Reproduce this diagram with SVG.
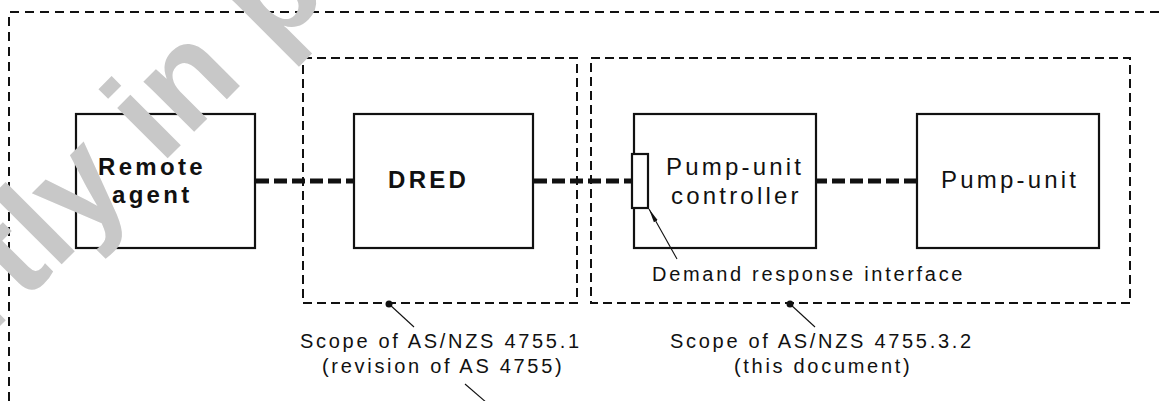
<svg xmlns="http://www.w3.org/2000/svg" width="1159" height="401" viewBox="0 0 1159 401">
<style>
.box{fill:#fff;stroke:#111;stroke-width:2.2}
.scope{fill:none;stroke:#111;stroke-width:2;stroke-dasharray:9 5}
.outer{fill:none;stroke:#111;stroke-width:2;stroke-dasharray:9 6}
.conn{fill:none;stroke:#111;stroke-width:5;stroke-dasharray:13 5}
.lead{fill:none;stroke:#111;stroke-width:1.1}
.bl{font-family:"Liberation Sans",Arial,sans-serif;font-weight:bold;font-size:24px;letter-spacing:3.3px;fill:#111}
.rl{font-family:"Liberation Sans",Arial,sans-serif;font-size:24px;letter-spacing:3.2px;fill:#111}
.sl{font-family:"Liberation Sans",Arial,sans-serif;font-size:20px;letter-spacing:2.7px;fill:#111}
.wm{font-family:"Liberation Sans",Arial,sans-serif;font-weight:bold;font-size:135px;fill:#c8c8c8}
</style>
<defs>
<marker id="arr" viewBox="0 0 14 6" refX="14" refY="3" markerWidth="14" markerHeight="6" markerUnits="userSpaceOnUse" orient="auto">
<path d="M0,0.8 L14,3 L0,5.2 Z" fill="#111"/>
</marker>
</defs>
<rect width="1159" height="401" fill="#fff"/>
<g id="outer-scope"><path class="outer" d="M9,401 V12 H1160"/></g>
<g id="scope-4755-1"><rect class="scope" x="303" y="58" width="274" height="245"/></g>
<g id="scope-4755-3-2"><rect class="scope" x="591" y="58" width="539" height="245"/></g>
<g id="remote-agent">
<rect class="box" x="76" y="114" width="179" height="134"/>
<text class="bl" x="98" y="175">Remote</text>
<text class="bl" x="112" y="203">agent</text>
</g>
<g id="dred">
<rect class="box" x="354" y="114" width="179" height="134"/>
<text class="bl" x="388" y="188">DRED</text>
</g>
<g id="pump-unit-controller">
<rect class="box" x="634" y="114" width="182" height="134"/>
<rect class="box" x="632" y="154" width="16" height="54"/>
<text class="rl" x="666" y="175">Pump-unit</text>
<text class="rl" x="671" y="204">controller</text>
</g>
<g id="pump-unit">
<rect class="box" x="917" y="114" width="182" height="134"/>
<text class="rl" x="941" y="188">Pump-unit</text>
</g>
<g id="connectors">
<line class="conn" x1="256" y1="181" x2="353" y2="181"/>
<line class="conn" x1="534" y1="181" x2="631" y2="181"/>
<line class="conn" x1="817" y1="181" x2="916" y2="181" stroke-dashoffset="3"/>
<line class="lead" x1="677" y1="259" x2="649" y2="209" marker-end="url(#arr)"/>
<circle cx="389" cy="304" r="3.5" fill="#111"/>
<line class="lead" x1="389" y1="304" x2="414" y2="327"/>
<circle cx="790" cy="304" r="3.5" fill="#111"/>
<line class="lead" x1="790" y1="304" x2="815" y2="327"/>
<line class="lead" x1="465" y1="384" x2="487" y2="403"/>
</g>
<g id="labels">
<text class="sl" x="652" y="281">Demand response interface</text>
<text class="sl" x="300" y="348">Scope of AS/NZS 4755.1</text>
<text class="sl" x="322" y="373">(revision of AS 4755)</text>
<text class="sl" x="670" y="348">Scope of AS/NZS 4755.3.2</text>
<text class="sl" x="734" y="373">(this document)</text>
</g>
<g id="watermark">
<text class="wm" transform="translate(-14,340) rotate(-45)">rtly in p</text>
</g>
</svg>
